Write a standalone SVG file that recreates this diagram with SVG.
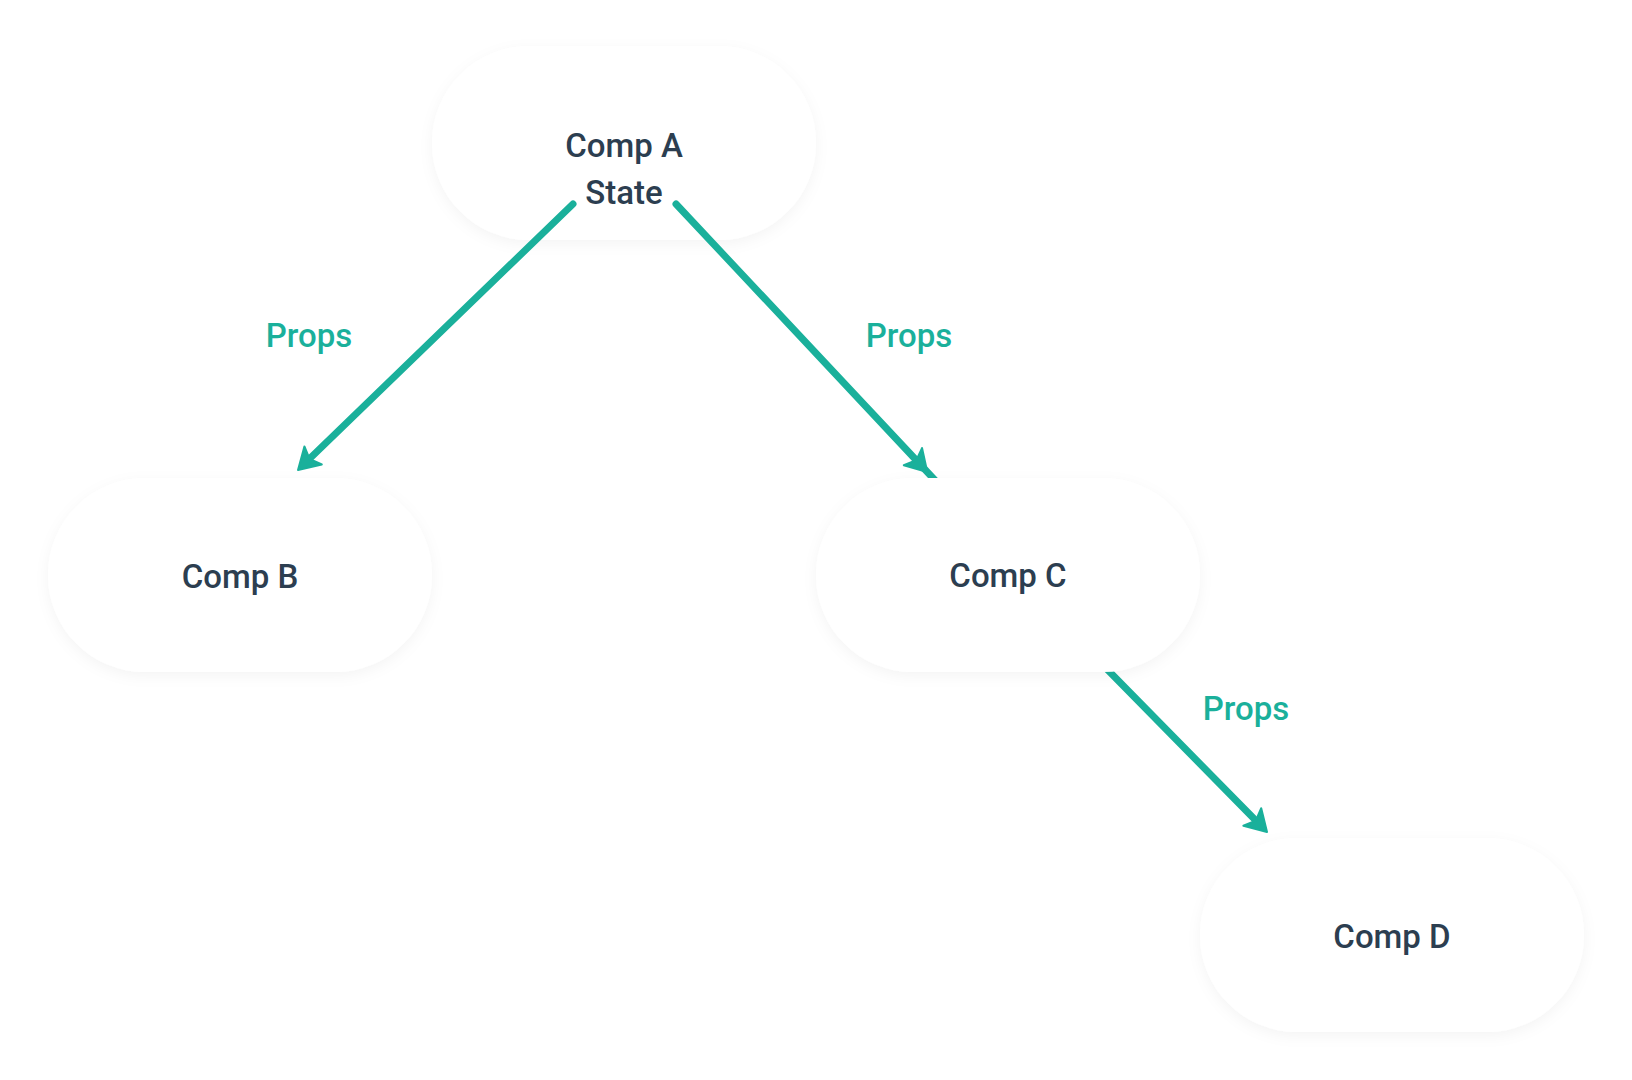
<svg xmlns="http://www.w3.org/2000/svg" width="1632" height="1080" viewBox="0 0 1632 1080">
  <defs>
    <style>
      .node-shape { fill: #ffffff; filter: url(#soft-shadow); }
      .node-label { font-family: Roboto, "Liberation Sans", sans-serif; font-weight: 500; font-size: 33px; fill: #2c3e50; text-anchor: middle; }
      .edge { fill: none; stroke: #1ab09b; stroke-width: 7; stroke-linecap: round; }
      .edge-label { font-family: Roboto, "Liberation Sans", sans-serif; font-weight: 500; font-size: 33px; fill: #1ab09b; text-anchor: middle; }
    </style>
    <filter id="soft-shadow" x="-20%" y="-25%" width="140%" height="160%">
      <feDropShadow dx="0" dy="4" stdDeviation="7" flood-color="#000000" flood-opacity="0.045"/>
    </filter>
    <marker id="arrow" markerUnits="userSpaceOnUse" markerWidth="44" markerHeight="44" viewBox="-22 -22 44 44" refX="0" refY="0" orient="auto">
      <path d="M 15 0 L -6 -12.5 L -1 0 L -6 12.5 Z" fill="#1ab09b" stroke="#1ab09b" stroke-width="2" stroke-linejoin="round"/>
    </marker>
  </defs>

  <rect width="1632" height="1080" fill="#ffffff"/>

  <!-- root component, holds the state -->
  <g id="node-comp-a">
    <rect class="node-shape" x="432" y="46" width="384" height="194" rx="97" ry="97"/>
    <text class="node-label" x="624" y="157">Comp A</text>
    <text class="node-label" x="624" y="204">State</text>
  </g>

  <!-- props flowing down the tree -->
  <g id="connectors">
    <path class="edge" d="M 573 204 L 308.8 459.6" marker-end="url(#arrow)"/>
    <path class="edge" d="M 676 204 L 917 461 L 946 492" marker-mid="url(#arrow)"/>
    <path class="edge" d="M 1097 659 L 1256.5 821.3" marker-end="url(#arrow)"/>
    <text class="edge-label" x="309" y="347">Props</text>
    <text class="edge-label" x="909" y="347">Props</text>
    <text class="edge-label" x="1246" y="720">Props</text>
  </g>

  <g id="node-comp-b">
    <rect class="node-shape" x="48" y="478" width="384" height="194" rx="97" ry="97"/>
    <text class="node-label" x="240" y="588">Comp B</text>
  </g>

  <g id="node-comp-c">
    <rect class="node-shape" x="816" y="478" width="384" height="194" rx="97" ry="97"/>
    <text class="node-label" x="1008" y="587">Comp C</text>
  </g>

  <g id="node-comp-d">
    <rect class="node-shape" x="1200" y="838" width="384" height="194" rx="97" ry="97"/>
    <text class="node-label" x="1392" y="948">Comp D</text>
  </g>
</svg>
